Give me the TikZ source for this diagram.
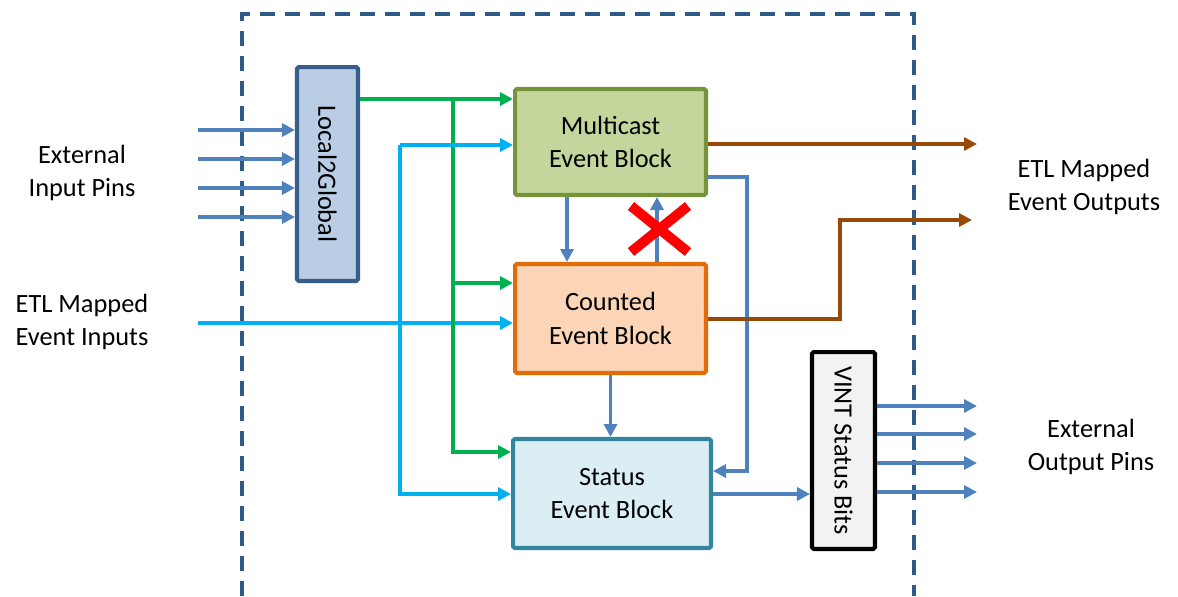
\documentclass[tikz,border=0pt]{standalone}
\usepackage{fontspec}
\setmainfont{Carlito}
\usetikzlibrary{arrows.meta}
\definecolor{bluewire}{HTML}{4F81BD}
\definecolor{greenwire}{HTML}{00B050}
\definecolor{cyanwire}{HTML}{00B0F0}
\definecolor{brownwire}{HTML}{984807}
\definecolor{frameline}{HTML}{2E5A88}
\definecolor{l2gline}{HTML}{385D8A}
\definecolor{l2gfill}{HTML}{B9CDE5}
\definecolor{mcline}{HTML}{77933C}
\definecolor{mcfill}{HTML}{C3D69B}
\definecolor{cbline}{HTML}{E36C09}
\definecolor{cbfill}{HTML}{FBD5B5}
\definecolor{sbline}{HTML}{31859C}
\definecolor{sbfill}{HTML}{DBEEF4}
\tikzset{every node/.style={font=\fontsize{15}{19}\selectfont, align=center, inner sep=0pt},
  blk/.style={draw, line width=2.3pt, rounded corners=1pt},
  wire/.style={line width=2pt, -{Triangle[length=0.26cm,width=0.26cm]}},
  frame/.style={frameline, line width=1.9pt, dash pattern=on 0.3cm off 0.2cm},
  redx/.style={red, line width=0.2cm}}

\begin{document}
\begin{tikzpicture}[x=0.02cm, y=-0.02cm]
  \useasboundingbox (0,0) rectangle (1178,596);
  \draw[frame] (242,596) -- (242,14) -- (914,14) -- (914,596);

  % blocks
  \node[blk, draw=l2gline, fill=l2gfill, minimum width=1.22cm, minimum height=4.28cm] (l2g) at (327.5,174) {\rotatebox{-90}{Local2Global}};
  \node[blk, draw=mcline, fill=mcfill, minimum width=3.82cm, minimum height=2.12cm] (mc) at (610.5,142) {Multicast\\Event Block};
  \node[blk, draw=cbline, fill=cbfill, minimum width=3.82cm, minimum height=2.18cm] (cb) at (610.5,318.5) {Counted\\Event Block};
  \node[blk, draw=sbline, fill=sbfill, minimum width=3.96cm, minimum height=2.18cm] (sb) at (612,493.5) {Status\\Event Block};
  \node[blk, draw=black, fill=black!5, minimum width=1.26cm, minimum height=3.94cm] (vint) at (843.5,450.5) {\rotatebox{-90}{VINT Status Bits}};

  % labels
  \node (extin) at (82,173) {External\\Input Pins};
  \node (etlin) at (82,322) {ETL Mapped\\Event Inputs};
  \node (etlout) at (1084,187) {ETL Mapped\\Event Outputs};
  \node (extout) at (1091,447) {External\\Output Pins};

  % inputs
  \foreach \y in {130,159,188,217}
    \draw[wire, bluewire] (198,\y) -- (l2g.west |- 0,\y);
  \draw[wire, cyanwire] (198,323) -- (cb.west |- 0,323);

  % green bus
  \coordinate (gsplit) at (453,99);
  \draw[wire, greenwire] (l2g.east |- gsplit) -- (mc.west |- gsplit);
  \draw[wire, greenwire] (gsplit |- 0,283) -- (cb.west |- 0,283);
  \draw[wire, greenwire] (gsplit) |- (sb.west |- 0,452);

  % cyan bus
  \coordinate (csplit) at (400,145);
  \draw[wire, cyanwire] (csplit) -- (mc.west |- csplit);
  \draw[wire, cyanwire] (csplit) |- (sb.west |- 0,494);

  % block to block
  \draw[wire, bluewire] (mc.south -| 567,0) -- (cb.north -| 567,0);
  \draw[wire, bluewire] (cb.north -| 657,0) -- (mc.south -| 657,0);
  \draw[wire, bluewire] (mc.east |- 0,177) -| (747,471) -- (sb.east |- 0,471);
  \draw[wire, bluewire] (cb.south) -- (cb.south |- sb.north);
  \draw[wire, bluewire] (sb.east |- 0,494) -- (vint.west |- 0,494);

  % outputs
  \foreach \y in {406,434,463,492}
    \draw[wire, bluewire] (vint.east |- 0,\y) -- (977,\y);
  \draw[wire, brownwire] (mc.east |- 0,144) -- (977,144);
  \draw[wire, brownwire] (cb.east |- 0,319) -| (840,220) -- (972,220);

  % blocked path
  \draw[redx] (631,206) -- (688,252) (631,252) -- (688,206);
\end{tikzpicture}
\end{document}
